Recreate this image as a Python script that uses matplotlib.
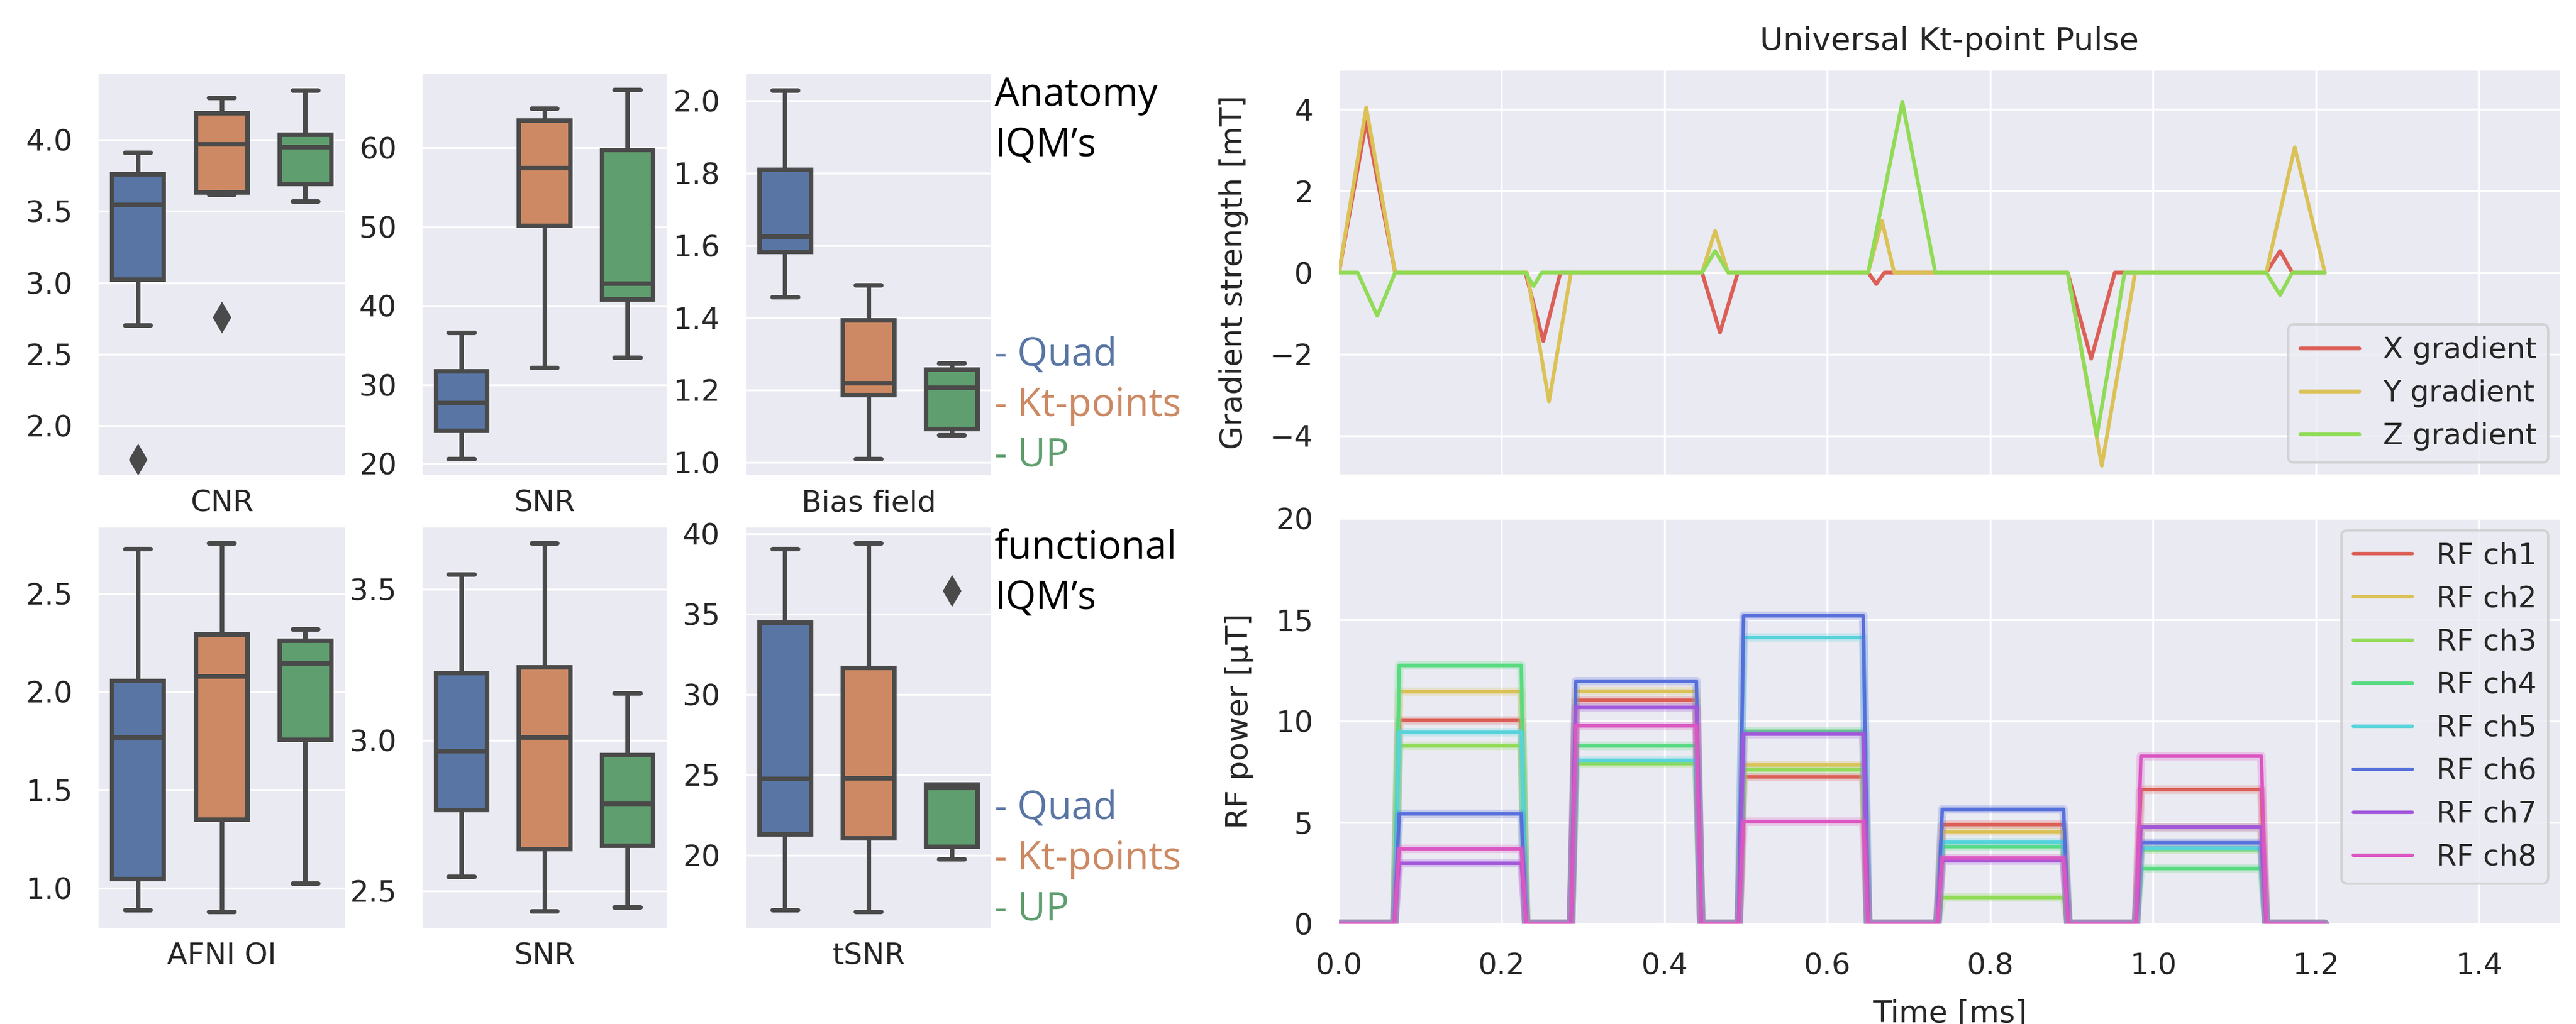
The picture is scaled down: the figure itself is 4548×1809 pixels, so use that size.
import matplotlib
matplotlib.use("Agg")
import matplotlib.pyplot as plt

# ---- boxplot data (whislo, q1, median, q3, whishi) for Quad / Kt-points / UP
methods = ['Quad', 'Kt-points', 'UP']
box_colors = ['#5875a4', '#cc8963', '#5f9e6e']

cnr_box = [[2.70, 3.02, 3.545, 3.76, 3.91], [3.615, 3.63, 3.97, 4.186, 4.295], [3.57, 3.69, 3.95, 4.036, 4.345]]
cnr_out = [[1.76], [2.755], []]
snr_a_box = [[20.6, 24.2, 27.7, 31.7, 36.6], [32.1, 50.1, 57.4, 63.4, 64.9], [33.4, 40.8, 42.8, 59.7, 67.3]]
snr_a_out = [[], [], []]
bias_box = [[1.457, 1.582, 1.624, 1.81, 2.029], [1.009, 1.186, 1.218, 1.392, 1.49], [1.074, 1.092, 1.207, 1.257, 1.274]]
bias_out = [[], [], []]
afni_box = [[0.886, 1.044, 1.766, 2.055, 2.725], [0.877, 1.348, 2.077, 2.29, 2.754], [1.022, 1.755, 2.145, 2.258, 2.317]]
afni_out = [[], [], []]
snr_f_box = [[2.548, 2.769, 2.963, 3.222, 3.549], [2.434, 2.64, 3.009, 3.241, 3.652], [2.446, 2.651, 2.789, 2.95, 3.155]]
snr_f_out = [[], [], []]
tsnr_box = [[16.6, 21.3, 24.75, 34.48, 39.06], [16.5, 21.06, 24.8, 31.67, 39.4], [19.75, 20.54, 24.2, 24.4, 24.4]]
tsnr_out = [[], [], [36.46]]

# ---- gradient waveforms (time in ms, strength in mT)
gx_t = [0, 0.0335, 0.069, 0.229, 0.251, 0.272, 0.446, 0.468, 0.490, 0.650, 0.660, 0.670,
        0.895, 0.924, 0.953, 1.139, 1.156, 1.171, 1.211]
gx_v = [0, 3.70, 0, 0, -1.68, 0, 0, -1.47, 0, 0, -0.28, 0, 0, -2.11, 0, 0, 0.53, 0, 0]
gy_t = [0, 0.0335, 0.069, 0.231, 0.258, 0.285, 0.446, 0.462, 0.478, 0.650, 0.667, 0.682,
        0.895, 0.937, 0.978, 1.139, 1.174, 1.211]
gy_v = [0, 4.05, 0, 0, -3.16, 0, 0, 1.02, 0, 0, 1.27, 0, 0, -4.74, 0, 0, 3.07, 0]
gz_t = [0, 0.023, 0.047, 0.069, 0.229, 0.239, 0.249, 0.446, 0.462, 0.478, 0.650, 0.692, 0.7325,
        0.895, 0.931, 0.965, 1.139, 1.156, 1.171, 1.211]
gz_v = [0, 0, -1.06, 0, 0, -0.33, 0, 0, 0.53, 0, 0, 4.19, 0, 0, -4.0, 0, 0, -0.55, 0, 0]

# ---- RF sub-pulses: edges (rise start, rise end, fall start, fall end) and level per channel
rf_edges = [(0.068, 0.074, 0.224, 0.230), (0.285, 0.291, 0.439, 0.445), (0.491, 0.497, 0.644, 0.650),
            (0.735, 0.741, 0.890, 0.896), (0.979, 0.985, 1.133, 1.139)]
rf_end = 1.211
rf_levels = [
    [10.03, 11.03, 7.25, 4.90, 6.62],   # ch1
    [11.45, 11.48, 7.84, 4.55, 4.77],   # ch2
    [8.78, 7.90, 7.60, 1.30, 3.65],     # ch3
    [12.75, 8.78, 9.50, 3.81, 2.73],    # ch4
    [9.45, 8.07, 14.13, 4.03, 3.73],    # ch5
    [5.43, 11.97, 15.20, 5.65, 4.00],   # ch6
    [2.99, 10.68, 9.36, 3.12, 4.77],    # ch7
    [3.70, 9.77, 5.04, 3.25, 8.27],     # ch8
]
rf_labels = ['RF ch1', 'RF ch2', 'RF ch3', 'RF ch4', 'RF ch5', 'RF ch6', 'RF ch7', 'RF ch8']
hls8 = ['#db5f57', '#dbc257', '#91db57', '#57db80', '#57d3db', '#5770db', '#a157db', '#db57c2']

plt.style.use('seaborn-v0_8-darkgrid')
plt.rcParams['font.family'] = ['DejaVu Sans']
plt.rcParams['text.color'] = '.15'
plt.rcParams['xtick.color'] = '.15'
plt.rcParams['ytick.color'] = '.15'
plt.rcParams['axes.labelcolor'] = '.15'

W, H = 4548, 1809
fig = plt.figure(figsize=(W / 300, H / 300), dpi=300)


def px_axes(x0, y0, x1, y1):
    return fig.add_axes([x0 / W, 1 - y1 / H, (x1 - x0) / W, (y1 - y0) / H])


line_col = '#4a4a4a'


def draw_box(ax, box, outs, label, ylim, ticks):
    stats = []
    for b, o in zip(box, outs):
        stats.append(dict(whislo=b[0], q1=b[1], med=b[2], q3=b[3], whishi=b[4], fliers=o))
    lw = 1.9
    parts = ax.bxp(stats, positions=[-0.34, 0, 0.34], widths=0.21, patch_artist=True,
                   boxprops=dict(edgecolor=line_col, linewidth=lw),
                   medianprops=dict(color=line_col, linewidth=lw),
                   whiskerprops=dict(color=line_col, linewidth=lw),
                   capprops=dict(color=line_col, linewidth=lw),
                   flierprops=dict(marker='d', markerfacecolor=line_col, markeredgecolor=line_col,
                                   markersize=8))
    for patch, c in zip(parts['boxes'], box_colors):
        patch.set_facecolor(c)
    ax.set_xlim(-0.5, 0.5)
    ax.set_xticks([0])
    ax.set_xticklabels([label])
    ax.set_ylim(*ylim)
    ax.set_yticks(ticks)
    ax.grid(False, axis='x')
    ax.tick_params(axis='y', labelsize=12.5, pad=11, length=0)
    ax.tick_params(axis='x', labelsize=12.5, pad=6, length=0)


top_y = (131, 839)
bot_y = (932, 1639)
cols = [(174, 609), (746, 1177), (1317, 1750)]

draw_box(px_axes(cols[0][0], top_y[0], cols[0][1], top_y[1]), cnr_box, cnr_out, 'CNR',
         (1.655, 4.46), [2.0, 2.5, 3.0, 3.5, 4.0])
draw_box(px_axes(cols[1][0], top_y[0], cols[1][1], top_y[1]), snr_a_box, snr_a_out, 'SNR',
         (18.6, 69.3), [20, 30, 40, 50, 60])
draw_box(px_axes(cols[2][0], top_y[0], cols[2][1], top_y[1]), bias_box, bias_out, 'Bias field',
         (0.965, 2.074), [1.0, 1.2, 1.4, 1.6, 1.8, 2.0])
draw_box(px_axes(cols[0][0], bot_y[0], cols[0][1], bot_y[1]), afni_box, afni_out, 'AFNI OI',
         (0.797, 2.836), [1.0, 1.5, 2.0, 2.5])
draw_box(px_axes(cols[1][0], bot_y[0], cols[1][1], bot_y[1]), snr_f_box, snr_f_out, 'SNR',
         (2.379, 3.704), [2.5, 3.0, 3.5])
draw_box(px_axes(cols[2][0], bot_y[0], cols[2][1], bot_y[1]), tsnr_box, tsnr_out, 'tSNR',
         (15.5, 40.4), [20, 25, 30, 35, 40])

# side annotations
ann_font = dict(family='Open Sans', fontsize=16.5, va='baseline', ha='left')
tx = 1756 / W
fig.text(tx, 1 - 187 / H, 'Anatomy', color='black', **ann_font)
fig.text(tx, 1 - 276 / H, 'IQM\u2019s', color='black', **ann_font)
fig.text(tx, 1 - 988 / H, 'functional', color='black', **ann_font)
fig.text(tx, 1 - 1077 / H, 'IQM\u2019s', color='black', **ann_font)
for base in (646, 1447):
    for i, (m, c) in enumerate(zip(methods, box_colors)):
        fig.text(tx, 1 - (base + 89 * i) / H, '- ' + m, color=c, **ann_font)

# gradient panel
axg = px_axes(2364, 125, 4520, 838)
axg.plot(gx_t, gx_v, color=hls8[0], lw=1.6, label='X gradient')
axg.plot(gy_t, gy_v, color=hls8[1], lw=1.6, label='Y gradient')
axg.plot(gz_t, gz_v, color=hls8[2], lw=1.6, label='Z gradient')
axg.set_xlim(0, 1.5)
axg.set_ylim(-4.95, 4.95)
axg.set_xticks([0, 0.2, 0.4, 0.6, 0.8, 1.0, 1.2, 1.4])
axg.set_yticks([-4, -2, 0, 2, 4])
axg.tick_params(labelbottom=False, length=0)
axg.tick_params(axis='y', labelsize=12.5, pad=11)
axg.set_ylabel('Gradient strength [mT]', fontsize=13, labelpad=9)
axg.set_title('Universal Kt-point Pulse', fontsize=13.5, pad=9)
axg.legend(loc='lower right', fontsize=12.5, frameon=True, borderaxespad=0.4)

# RF panel
axr = px_axes(2364, 916, 4520, 1632)
for lev, lab, c in zip(rf_levels, rf_labels, hls8):
    t = [0.0]
    v = [0.0]
    for (a, b, cc, d), level in zip(rf_edges, lev):
        t += [a, b, cc, d]
        v += [0.0, level, level, 0.0]
    t.append(rf_end)
    v.append(0.0)
    axr.plot(t, v, color=c, lw=3.6, alpha=0.25)
    axr.plot(t, v, color=c, lw=1.5, label=lab)
axr.set_xlim(0, 1.5)
axr.set_ylim(0, 20)
axr.set_xticks([0, 0.2, 0.4, 0.6, 0.8, 1.0, 1.2, 1.4])
axr.set_yticks([0, 5, 10, 15, 20])
axr.tick_params(length=0, labelsize=12.5)
axr.tick_params(axis='y', pad=11)
axr.tick_params(axis='x', pad=12)
axr.set_xlabel('Time [ms]', fontsize=13, labelpad=8)
axr.set_ylabel('RF power [\u00b5T]', fontsize=13, labelpad=9)
axr.legend(loc='upper right', fontsize=12.5, frameon=True, borderaxespad=0.4)

fig.savefig('out.png', dpi=300)
